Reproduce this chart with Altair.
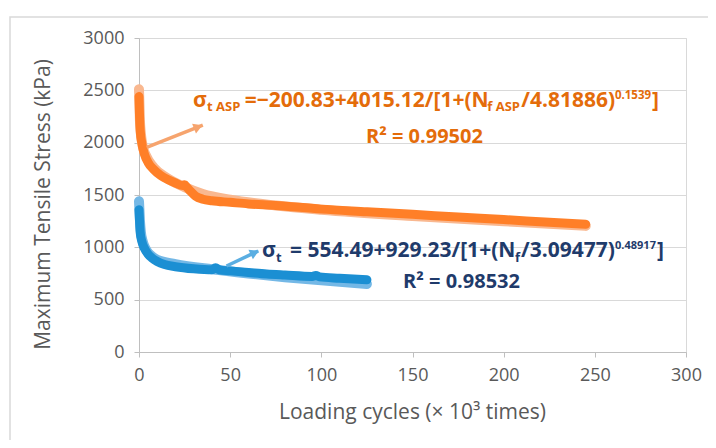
import altair as alt
import pandas as pd

# ---------------- data ----------------
# Asphalt (ASP) measured stress, kPa vs loading cycles (x10^3)
asp_x = [0, 0.3, 0.7, 1.5, 3, 5, 8, 12, 16, 20, 24, 25, 26, 28, 31, 35, 40, 50, 60, 75, 100, 125, 150, 175, 200, 225, 245]
asp_y = [2440, 2250, 2110, 2000, 1890, 1810, 1745, 1685, 1645, 1615, 1590, 1598, 1578, 1540, 1490, 1460, 1445, 1430, 1415, 1400, 1365, 1340, 1315, 1290, 1265, 1240, 1220]
# Asphalt fitted curve
asp_fit_x = [0, 0.5, 1, 2, 4, 8, 15, 25, 35, 50, 75, 100, 150, 200, 245]
asp_fit_y = [2510, 2210, 2090, 1970, 1870, 1765, 1665, 1575, 1510, 1455, 1400, 1360, 1300, 1250, 1205]
# Second material measured stress
mat_x = [0, 0.3, 0.7, 1.5, 3, 5, 7, 10, 14, 20, 30, 40, 42, 44, 50, 60, 70, 80, 95, 97, 99, 110, 125]
mat_y = [1360, 1250, 1135, 1060, 990, 935, 900, 865, 835, 815, 795, 785, 805, 785, 775, 760, 745, 735, 722, 732, 718, 705, 690]
# Second material fitted curve
mat_fit_x = [0, 0.5, 1, 2, 4, 7, 10, 20, 40, 60, 80, 100, 125]
mat_fit_y = [1440, 1260, 1150, 1060, 975, 915, 880, 840, 790, 750, 715, 685, 650]

x_ticks = [0, 50, 100, 150, 200, 250, 300]
y_ticks = [0, 500, 1000, 1500, 2000, 2500, 3000]

# Annotation text segments (anchor in data units)
ORANGE_TXT = "#E46C0A"
NAVY_TXT = "#1F3B6B"
eq_text = ["σ", "t ASP", "=−200.83+4015.12/[1+(N", "f ASP", "/4.81886)", "0.1539", "]", "R² = 0.99502",
           "σ", "t", "= 554.49+929.23/[1+(N", "f", "/3.09477)", "0.48917", "]", "R² = 0.98532"]
eq_x = [29.6, 37.3, 58.0, 191.0, 209.7, 261.0, 281.3, 124.5,
        67.5, 75.1, 82.8, 206.2, 209.5, 261.1, 284.1, 144.8]
eq_y = [2344, 2298, 2344, 2298, 2344, 2420, 2344, 1994,
        910, 860, 910, 860, 910, 985, 910, 609]
eq_size = [21, 13, 21, 13, 21, 11.5, 21, 20,
           21, 13, 21, 13, 21, 11, 21, 20]
eq_color = [ORANGE_TXT] * 8 + [NAVY_TXT] * 8

# Arrows (start -> tip) in data units
arrow_series = ["asp", "asp", "mat", "mat"]
arrow_x = [4.2, 35.0, 48.0, 65.4]
arrow_y = [1956, 2168, 822, 965]
head_x = [32.5, 63.5]
head_y = [2150, 950]
head_angle = [338.5, 334.7]
head_color = ["#F6A46E", "#5AAEE2"]

# ---------------- build chart ----------------
FONT = "Open Sans"
xs = alt.Scale(domain=[0, 300], nice=False, zero=False)
ys = alt.Scale(domain=[0, 3000], nice=False)

def line_df(x, y):
    return pd.DataFrame({"x": x, "y": y})

x_axis = alt.Axis(values=x_ticks, format="d", title="Loading cycles (× 10³ times)", grid=False,
                  labelFontSize=18, labelColor="#595959", labelFont=FONT, labelPadding=9,
                  labelFlush=False,
                  tickSize=5, tickColor="#BFBFBF", domainColor="#BFBFBF",
                  titleFontSize=21, titleFont=FONT, titleColor="#595959", titleFontWeight="normal",
                  titleX=273, titleY=60, titleBaseline="middle", titleAlign="center")
y_axis = alt.Axis(values=y_ticks, format="d", title="Maximum Tensile Stress (kPa)", grid=True, gridColor="#D9D9D9",
                  labelFontSize=18, labelColor="#595959", labelFont=FONT, labelPadding=10,
                  tickSize=5, tickColor="#BFBFBF", domainColor="#BFBFBF",
                  titleFontSize=21, titleFont=FONT, titleColor="#595959", titleFontWeight="normal",
                  titleX=-96, titleY=166, titleBaseline="middle", titleAlign="center", titleAngle=270)

base_x = alt.X("x:Q", scale=xs, axis=x_axis)
base_y = alt.Y("y:Q", scale=ys, axis=y_axis)

frame = alt.Chart(pd.DataFrame({"a": [0]})).mark_rect(
    fill=None, stroke="#D9D9D9", strokeWidth=1.5
).encode(x=alt.value(-129), x2=alt.value(620), y=alt.value(-21), y2=alt.value(450))

def curve(x, y, color, width):
    return alt.Chart(line_df(x, y)).mark_line(
        color=color, strokeWidth=width, strokeCap="round", strokeJoin="round", interpolate="monotone"
    ).encode(x=alt.X("x:Q", scale=xs), y=alt.Y("y:Q", scale=ys))

axes_layer = alt.Chart(line_df(asp_x, asp_y)).mark_point(opacity=0).encode(x=base_x, y=base_y)

asp_fit = curve(asp_fit_x, asp_fit_y, "#F9B890", 10)
asp_meas = curve(asp_x, asp_y, "#FF7F27", 9)
mat_fit = curve(mat_fit_x, mat_fit_y, "#74B8E6", 10)
mat_meas = curve(mat_x, mat_y, "#1B8FD3", 9)

arrow_df = pd.DataFrame({"s": arrow_series, "x": arrow_x, "y": arrow_y})
arrows = alt.Chart(arrow_df).mark_line(strokeWidth=3.5).encode(
    x=alt.X("x:Q", scale=xs), y=alt.Y("y:Q", scale=ys), detail="s:N",
    color=alt.Color("s:N", scale=alt.Scale(domain=["asp", "mat"], range=head_color), legend=None)
)
head_df = pd.DataFrame({"x": head_x, "y": head_y, "a": head_angle, "c": head_color})
heads = alt.Chart(head_df).mark_point(shape="triangle-right", filled=True, size=110, opacity=1).encode(
    x=alt.X("x:Q", scale=xs), y=alt.Y("y:Q", scale=ys),
    angle=alt.Angle("a:Q", scale=None), color=alt.Color("c:N", scale=None)
)

txt_df = pd.DataFrame({"x": eq_x, "y": eq_y, "t": eq_text, "s": eq_size, "c": eq_color})
texts = alt.Chart(txt_df).mark_text(
    align="left", baseline="alphabetic", font=FONT, fontWeight="bold"
).encode(
    x=alt.X("x:Q", scale=xs), y=alt.Y("y:Q", scale=ys), text="t:N",
    size=alt.Size("s:Q", scale=None), color=alt.Color("c:N", scale=None)
)

chart = alt.layer(
    frame, axes_layer, asp_fit, asp_meas, mat_fit, mat_meas, arrows, heads, texts
).properties(
    width=547, height=314,
    autosize=alt.AutoSizeParams(type="none"),
    padding={"left": 131, "top": 30, "right": 22, "bottom": 88},
    background="white"
).configure_view(stroke="#D9D9D9", strokeWidth=1)

chart.save("out.html", embed_options={"renderer": "svg", "actions": False})
